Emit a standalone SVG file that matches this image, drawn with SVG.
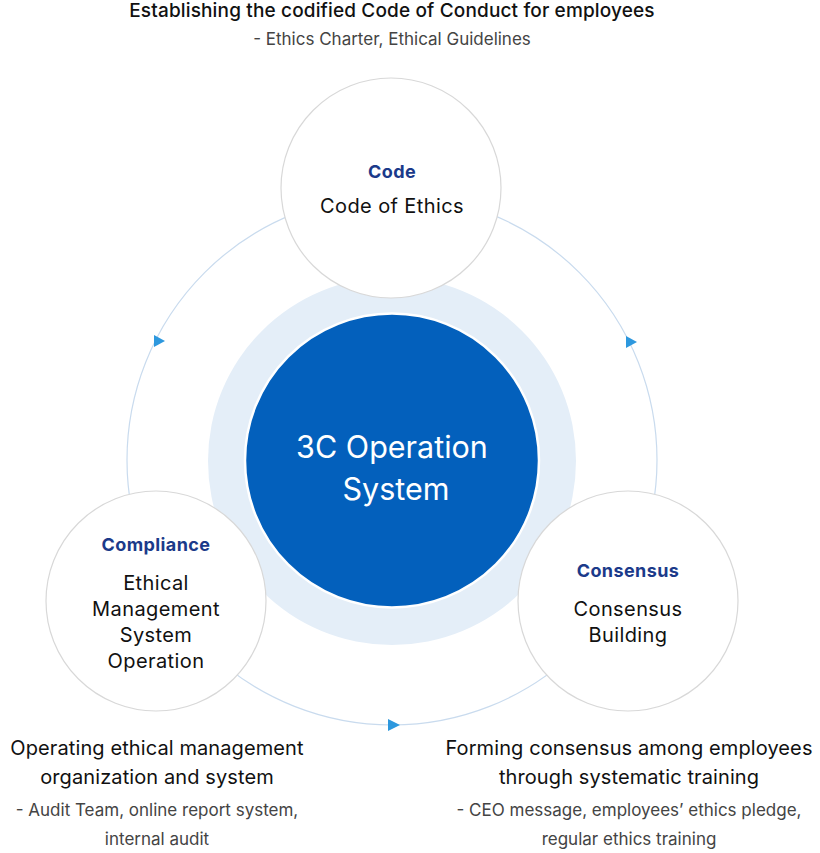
<svg xmlns="http://www.w3.org/2000/svg" width="820" height="853" viewBox="0 0 820 853">
<style>
text{font-family:Inter,"Noto Sans","Liberation Sans",sans-serif;text-anchor:middle}
.h{font-size:19px;fill:#111;font-weight:500;letter-spacing:0.15px}
.hb{font-size:20px;fill:#111;font-weight:400;letter-spacing:0.1px}
.s{font-size:17px;fill:#444}
.lbl{font-size:18px;font-weight:700;fill:#1b3a8a;letter-spacing:0.4px}
.body{font-size:20px;fill:#111;letter-spacing:0.4px}
.node{fill:#fff;stroke:#d8d8d8;stroke-width:1.2}
.orbit{fill:none;stroke:#c9dbee;stroke-width:1.2}
.arr{fill:#2d98de}
</style>
<rect width="820" height="853" fill="#fff"/>
<g id="connectors">
<circle class="orbit" cx="392" cy="460" r="265"/>
<polygon class="arr" points="154,335 165,341 154,347"/>
<polygon class="arr" points="626,336 637,342 626,348"/>
<polygon class="arr" points="388,719 400,725 388,731"/>
</g>
<g id="center">
<circle cx="392" cy="461" r="184" fill="#e4eef8"/>
<circle cx="392" cy="460.5" r="147" fill="#0360bc" stroke="#fff" stroke-width="2.5"/>
<text x="392" y="458" font-size="30.5" fill="#fff">3C Operation</text>
<text x="396" y="500" font-size="30.5" fill="#fff">System</text>
</g>
<g id="code">
<circle class="node" cx="391" cy="188" r="110"/>
<text class="lbl" x="392" y="178">Code</text>
<text class="body" x="392" y="213">Code of Ethics</text>
</g>
<g id="compliance">
<circle class="node" cx="156" cy="601" r="110"/>
<text class="lbl" x="156" y="551">Compliance</text>
<text class="body" x="156" y="590">Ethical</text>
<text class="body" x="156" y="616">Management</text>
<text class="body" x="156" y="642">System</text>
<text class="body" x="156" y="668">Operation</text>
</g>
<g id="consensus">
<circle class="node" cx="628" cy="601" r="110"/>
<text class="lbl" x="628" y="577">Consensus</text>
<text class="body" x="628" y="616">Consensus</text>
<text class="body" x="628" y="642">Building</text>
</g>
<g id="code-desc">
<text class="h" x="392" y="17">Establishing the codified Code of Conduct for employees</text>
<text class="s" x="392" y="45">- Ethics Charter, Ethical Guidelines</text>
</g>
<g id="compliance-desc">
<text class="hb" x="157" y="755">Operating ethical management</text>
<text class="hb" x="157" y="784">organization and system</text>
<text class="s" x="157" y="816">- Audit Team, online report system,</text>
<text class="s" x="157" y="845">internal audit</text>
</g>
<g id="consensus-desc">
<text class="hb" x="629" y="755">Forming consensus among employees</text>
<text class="hb" x="629" y="784">through systematic training</text>
<text class="s" x="629" y="816">- CEO message, employees’ ethics pledge,</text>
<text class="s" x="629" y="845">regular ethics training</text>
</g>
</svg>
